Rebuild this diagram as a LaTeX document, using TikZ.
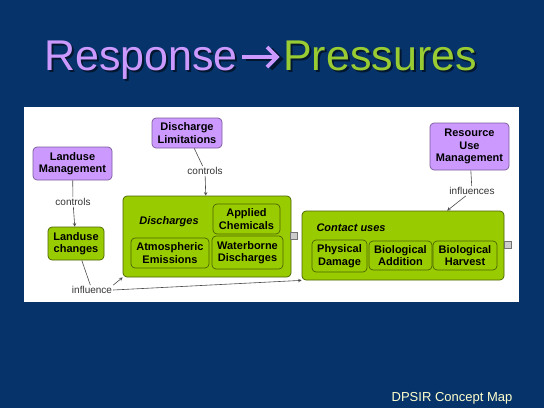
\documentclass[tikz,border=0pt]{standalone}
\usepackage{fontspec}
\setmainfont{Liberation Sans}
\usetikzlibrary{calc}
\definecolor{navy}{HTML}{06336A}
\definecolor{purpfill}{HTML}{CC99FF}
\definecolor{purpedge}{HTML}{7A5C99}
\definecolor{grnfill}{HTML}{99CC00}
\definecolor{grnedge}{HTML}{4A6300}
\definecolor{titlegrn}{HTML}{99CC33}
\definecolor{cream}{HTML}{FFFFCC}

\begin{document}
\begin{tikzpicture}[x=1pt, y=-1pt, >=stealth,
  every node/.style={font=\fontsize{11}{12.5}\selectfont},
  ttl/.style={inner sep=0pt, font=\fontsize{43}{48}\selectfont},
  shd/.style={text=black, opacity=0.55},
  purp/.style={draw=purpedge, fill=purpfill, rounded corners=4pt, line width=0.7pt,
    align=center, inner sep=0pt, font=\bfseries\fontsize{11}{12.5}\selectfont},
  grn/.style={draw=grnedge, fill=grnfill, rounded corners=4pt, line width=0.7pt,
    align=center, inner sep=0pt, font=\bfseries\fontsize{11}{12.5}\selectfont},
  lbl/.style={fill=white, inner sep=1pt, text=black!80, font=\fontsize{10}{11}\selectfont},
  ln/.style={draw=black!70, line width=0.6pt},
  icon/.style={draw=black!55, fill=black!20, minimum size=7pt, inner sep=0pt}]
\fill[navy] (0,0) rectangle (544,408);
\useasboundingbox (0,0) rectangle (544,408);
% title shadow
\node[ttl, shd, anchor=base east] at (240,72) {Response};
\node[ttl, shd, anchor=base west] at (285,72) {Pressures};
\draw[black, opacity=0.55, line width=3.6pt, line join=miter]
  (246,59) -- (281,59) (271,49) -- (281,59) -- (271,69);
% title
\node[ttl, anchor=base east, text=purpfill] (resp) at (238,70) {Response};
\node[ttl, anchor=base west, text=titlegrn] (press) at (283,70) {Pressures};
\draw[purpfill, line width=3.6pt, line join=miter]
  ($(resp.base east)+(4,-13)$) -- ($(press.base west)+(-6,-13)$)
  ($(press.base west)+(-16,-23)$) -- ($(press.base west)+(-6,-13)$) -- ($(press.base west)+(-16,-3)$);
% panel
\fill[white] (24,107) rectangle (519,302);
% response boxes
\node[purp, minimum width=79pt, minimum height=33pt] (lm) at (72.5,163.5) {Landuse\\Management};
\node[purp, minimum width=70pt, minimum height=30pt] (dl) at (187,133) {Discharge\\Limitations};
\node[purp, minimum width=79pt, minimum height=47pt] (rum) at (469.5,146.5) {Resource\\Use\\Management};
% pressures
\node[grn, minimum width=56pt, minimum height=33pt] (lc) at (76,243.5) {Landuse\\changes};
\node[grn, minimum width=168pt, minimum height=81pt] (dis) at (207,236.5) {};
\node[font=\bfseries\itshape\fontsize{11}{12.5}\selectfont] (dist) at (169,222) {Discharges};
\node[grn, minimum width=67pt, minimum height=30pt] (ac) at (246.5,219) {Applied\\Chemicals};
\node[grn, minimum width=78pt, minimum height=30pt] (ae) at (170,253) {Atmospheric\\Emissions};
\node[grn, minimum width=71pt, minimum height=33pt] (wd) at (247.5,252.5) {Waterborne\\Discharges};
\node[grn, minimum width=202pt, minimum height=69pt] (cu) at (403,245.5) {};
\node[font=\bfseries\itshape\fontsize{11}{12.5}\selectfont, anchor=west] (cut) at (313,228) {Contact uses};
\node[grn, minimum width=55pt, minimum height=32pt] (pd) at (339.5,256) {Physical\\Damage};
\node[grn, minimum width=63pt, minimum height=29pt] (ba) at (400.5,255.5) {Biological\\Addition};
\node[grn, minimum width=64pt, minimum height=29pt] (bh) at (465,255.5) {Biological\\Harvest};
\node[icon] (i1) at (293.5,236) {};
\node[icon] (i2) at (507.5,245) {};
% links
\node[lbl] (c1) at (73,202) {controls};
\node[lbl] (c2) at (205,171) {controls};
\node[lbl] (c3) at (472,191) {influences};
\node[lbl] (c4) at (92,290) {influence};
\draw[ln] (lm) -- (c1);
\draw[ln,->] (c1) -- (lc);
\draw[ln] (dl) -- (c2);
\draw[ln,->] (c2) -- (dis);
\draw[ln] (rum) -- (c3);
\draw[ln,->] (c3) -- (cu);
\draw[ln] (lc) -- (c4);
\draw[ln,->] (c4.north east) -- (dis.south west);
\draw[ln,->] (c4.east) -- (cu.south west);
% footer
\node[text=cream, font=\fontsize{13}{15}\selectfont] (foot) at (452,398) {DPSIR Concept Map};
\end{tikzpicture}
\end{document}
